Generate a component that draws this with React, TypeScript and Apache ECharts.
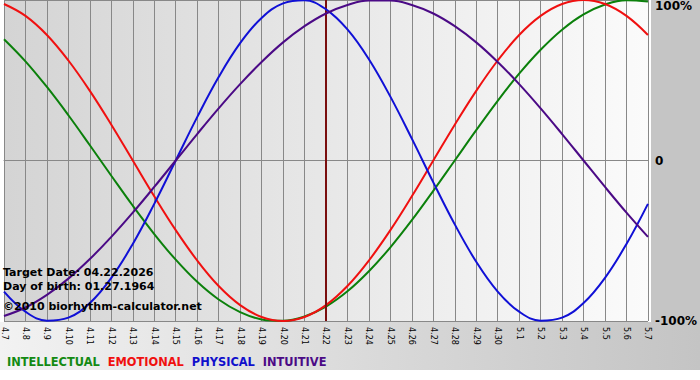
import React, { useEffect, useRef } from "react";
import * as echarts from "echarts";

const dates = [
  "4.7", "4.8", "4.9", "4.10", "4.11", "4.12", "4.13", "4.14", "4.15", "4.16",
  "4.17", "4.18", "4.19", "4.20", "4.21", "4.22", "4.23", "4.24", "4.25", "4.26",
  "4.27", "4.28", "4.29", "4.30", "5.1", "5.2", "5.3", "5.4", "5.5", "5.6", "5.7",
];

const intellectual = [
  75.6, 61.8, 45.8, 28.2, 9.5, -9.5, -28.2, -45.8, -61.8, -75.6, -86.6, -94.5,
  -99.0, -99.9, -97.2, -91.0, -81.5, -69.0, -54.1, -37.2, -18.9, 0, 18.9, 37.2,
  54.1, 69.0, 81.5, 91.0, 97.2, 99.9, 99.0,
];
const emotional = [
  97.5, 90.1, 78.2, 62.3, 43.4, 22.3, 0, -22.3, -43.4, -62.3, -78.2, -90.1,
  -97.5, -100, -97.5, -90.1, -78.2, -62.3, -43.4, -22.3, 0, 22.3, 43.4, 62.3,
  78.2, 90.1, 97.5, 100, 97.5, 90.1, 78.2,
];
const physical = [
  -81.7, -94.2, -99.8, -97.9, -88.8, -73.1, -52.0, -27.0, 0, 27.0, 52.0, 73.1,
  88.8, 97.9, 99.8, 94.2, 81.7, 63.1, 39.8, 13.6, -13.6, -39.8, -63.1, -81.7,
  -94.2, -99.8, -97.9, -88.8, -73.1, -52.0, -27.0,
];
const intuitive = [
  -96.9, -91.6, -83.7, -73.6, -61.4, -47.6, -32.5, -16.5, 0, 16.5, 32.5, 47.6,
  61.4, 73.6, 83.7, 91.6, 96.9, 99.7, 99.7, 96.9, 91.6, 83.7, 73.6, 61.4, 47.6,
  32.5, 16.5, 0, -16.5, -32.5, -47.6,
];

const targetDate = "4.22";
const infoLines = [
  "Target Date: 04.22.2026",
  "Day of birth: 01.27.1964",
  "©2010 biorhythm-calculator.net",
];
const yTicks: Record<string, string> = { "100": "100%", "0": "0", "-100": "-100%" };

const FONT = '"DejaVu Sans", Verdana, sans-serif';

export default function App() {
  const ref = useRef<HTMLDivElement>(null);
  useEffect(() => {
    document.body.style.margin = "0";
    if (!ref.current) return;
    const chart = echarts.init(ref.current, null, { renderer: "svg" });
    const seriesDefs = [
      { name: "INTELLECTUAL", data: intellectual, color: "#0b800b", legend: "#138a13" },
      { name: "EMOTIONAL", data: emotional, color: "#f01010", legend: "#f01010" },
      { name: "PHYSICAL", data: physical, color: "#1010d6", legend: "#1010cc" },
      { name: "INTUITIVE", data: intuitive, color: "#4b0a86", legend: "#4b0a86" },
    ];
    chart.setOption({
      animation: false,
      backgroundColor: "#ffffff",
      grid: {
        left: 0,
        right: 49,
        top: 0,
        bottom: 59,
        show: true,
        borderWidth: 0,
        backgroundColor: new echarts.graphic.LinearGradient(0, 0, 1, 0, [
          { offset: 0, color: "#d4d4d4" },
          { offset: 1, color: "#fbfbfb" },
        ]),
      },
      legend: {
        left: -3,
        top: 350,
        icon: "none",
        itemWidth: 0,
        itemGap: 3,
        selectedMode: false,
        textStyle: { fontFamily: FONT, fontWeight: "bold", fontSize: 11.4 },
        data: seriesDefs.map((s) => ({ name: s.name, textStyle: { color: s.legend } })),
      },
      xAxis: {
        type: "category",
        data: dates,
        boundaryGap: false,
        axisLine: { show: true, lineStyle: { color: "#888888", width: 1 } },
        axisTick: { show: true, length: 4, interval: 0, lineStyle: { color: "#888888" } },
        axisLabel: {
          interval: 0,
          rotate: -90,
          margin: 6,
          fontSize: 8,
          fontFamily: FONT,
          color: "#000000",
        },
        splitLine: { show: true, interval: 0, lineStyle: { color: "#888888", width: 1 } },
      },
      yAxis: {
        type: "value",
        position: "right",
        min: -100,
        max: 100,
        interval: 100,
        axisLine: { show: false },
        axisTick: { show: false },
        axisLabel: {
          margin: 7,
          fontSize: 12,
          fontWeight: "bold",
          fontFamily: FONT,
          color: "#000000",
          formatter: (v: number) => yTicks[String(v)] ?? "",
          verticalAlignMaxLabel: "top",
        },
        splitLine: { show: true, lineStyle: { color: "#888888", width: 1 } },
      },
      graphic: [
        {
          type: "rect",
          z: -10,
          silent: true,
          shape: { x: 651, y: 0, width: 49, height: 322 },
          style: { fill: "#c5c5c5" },
        },
        {
          type: "rect",
          z: -10,
          silent: true,
          shape: { x: 0, y: 322, width: 700, height: 48 },
          style: {
            fill: new echarts.graphic.LinearGradient(0, 0, 1, 0, [
              { offset: 0, color: "#f2f2f2" },
              { offset: 1, color: "#c4c4c4" },
            ]),
          },
        },
        ...infoLines.map((t, i) => ({
          type: "text",
          z: 100,
          left: 3,
          top: [267, 281, 301][i],
          silent: true,
          style: { text: t, font: `bold 11px ${FONT}`, fill: "#000000" },
        })),
      ],
      series: seriesDefs.map((s, i) => ({
        name: s.name,
        type: "line",
        data: s.data,
        smooth: 0.4,
        symbol: "none",
        lineStyle: { color: s.color, width: 2 },
        itemStyle: { color: s.color },
        z: 3 + i,
        markLine:
          i === seriesDefs.length - 1
            ? {
                silent: true,
                symbol: ["none", "none"],
                label: { show: false },
                lineStyle: { color: "#7a0e0e", width: 2, type: "solid" },
                data: [{ xAxis: targetDate }],
              }
            : undefined,
      })),
    });
    return () => chart.dispose();
  }, []);
  return <div ref={ref} style={{ width: 700, height: 380 }} />;
}
